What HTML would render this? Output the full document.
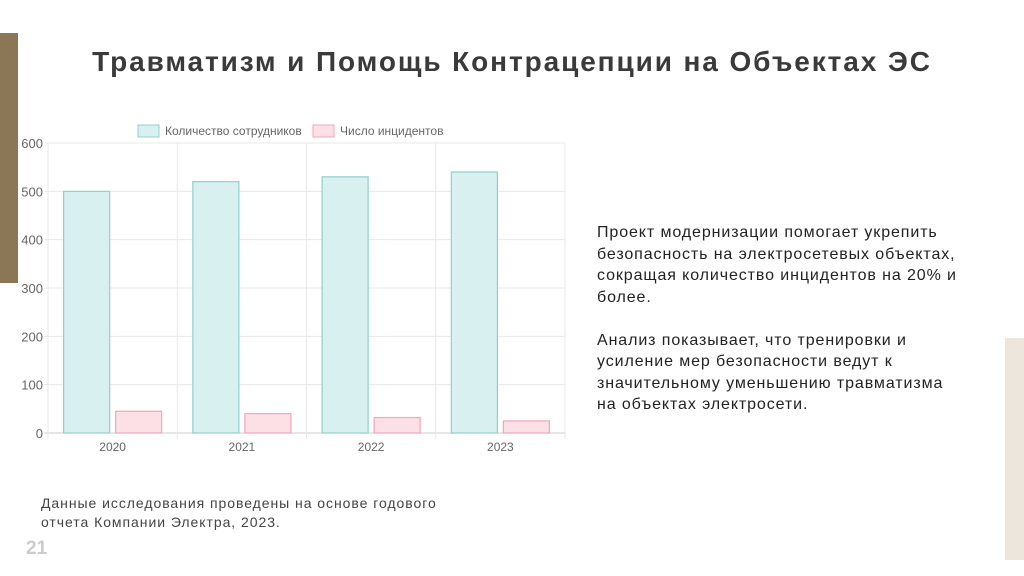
<!DOCTYPE html>
<html><head><meta charset="utf-8"><style>
body{margin:0;width:1024px;height:576px;background:#fff;position:relative;overflow:hidden;font-family:"Liberation Sans",sans-serif}
.abs{position:absolute}
#title{left:0;width:1024px;top:46px;text-align:center;font-size:28px;font-weight:bold;color:#3a3a3a;letter-spacing:1.9px}
#desc{left:597px;top:222px;width:420px;font-size:16px;line-height:21.5px;color:#222;letter-spacing:0.9px}
#note{left:41px;top:494px;font-size:14px;line-height:19px;color:#444;letter-spacing:0.95px}
#page{left:26px;top:538px;font-size:19px;font-weight:bold;color:#ccc}
</style></head><body>
<div class="abs" style="left:0;top:33px;width:18px;height:250px;background:#8b7755"></div>
<div class="abs" style="left:1005px;top:338px;width:19px;height:222px;background:#ece6dc"></div>
<div id="title" class="abs">Травматизм и Помощь Контрацепции на Объектах ЭС</div>
<svg class="abs" style="left:0;top:0" width="600" height="470">
<g id="g"></g>
</svg>
<div id="desc" class="abs">Проект модернизации помогает укрепить<br>безопасность на электросетевых объектах,<br>сокращая количество инцидентов на 20% и<br>более.<br><br>Анализ показывает, что тренировки и<br>усиление мер безопасности ведут к<br>значительному уменьшению травматизма<br>на объектах электросети.</div>
<div id="note" class="abs">Данные исследования проведены на основе годового<br>отчета Компании Электра, 2023.</div>
<div id="page" class="abs">21</div>
<script>
const categories=["2020","2021","2022","2023"];
const employees=[500,520,530,540];
const incidents=[45,40,32,25];
const yTicks=[0,100,200,300,400,500,600];
const L=48,R=565,T=143,B=433,yMax=600;
const y=v=>B-(v/yMax)*(B-T);
const cw=(R-L)/categories.length;
const g=document.getElementById('g');
const NS='http://www.w3.org/2000/svg';
function mk(t,a){const e=document.createElementNS(NS,t);for(const k in a)e.setAttribute(k,a[k]);g.appendChild(e);return e;}
yTicks.forEach(v=>{
 const l=mk('line',{x1:L-4,x2:R,y1:y(v),y2:y(v),stroke:v===0?'#ccc':'#e8e8e8'});
 
 
 const t=mk('text',{x:L-5,y:y(v)+5,'text-anchor':'end','font-size':13,fill:'#666'});t.textContent=v;
 
 
});
for(let i=0;i<=categories.length;i++){
 const x=L+i*cw;
 const l=mk('line',{x1:x,x2:x,y1:T,y2:B+6,stroke:'#e8e8e8'});
 
 
}
const bw=cw*0.356,gap=6;
categories.forEach((c,i)=>{
 const cx=L+i*cw+cw/2;
 const b1=mk('rect',{x:cx-gap/2-bw,y:y(employees[i]),width:bw,height:B-y(employees[i]),fill:'#d8f0f0',stroke:'#8fd0cc','stroke-width':1.2});
 
 
 const b2=mk('rect',{x:cx+gap/2,y:y(incidents[i]),width:bw,height:B-y(incidents[i]),fill:'#fde0e6',stroke:'#f0a6b8','stroke-width':1.2});
 
 
 const t=mk('text',{x:cx,y:451,'text-anchor':'middle','font-size':12,fill:'#666'});t.textContent=c;
 
 
});
const lg1=mk('rect',{x:138,y:125,width:21,height:12,fill:'#d8f0f0',stroke:'#8fd0cc'});


const lt1=mk('text',{x:165,y:135,'font-size':12,fill:'#666'});lt1.textContent='Количество сотрудников';


const lg2=mk('rect',{x:313,y:125,width:21,height:12,fill:'#fde0e6',stroke:'#f0a6b8'});


const lt2=mk('text',{x:340,y:135,'font-size':12,fill:'#666'});lt2.textContent='Число инцидентов';


</script>
</body></html>
